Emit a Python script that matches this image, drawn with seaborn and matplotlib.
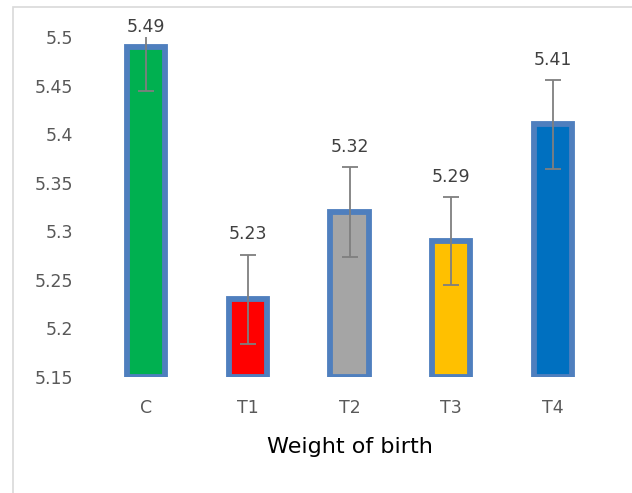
import numpy as np
import pandas as pd
import seaborn as sns
import matplotlib
matplotlib.use("Agg")
import matplotlib.pyplot as plt
from matplotlib.patches import Rectangle

groups = ["C", "T1", "T2", "T3", "T4"]
weights = [5.49, 5.23, 5.32, 5.29, 5.41]
errors = [0.046, 0.046, 0.046, 0.045, 0.046]
bar_colors = ["#00B050", "#FF0000", "#A5A5A5", "#FFC000", "#0070C0"]
y_ticks = [5.15, 5.2, 5.25, 5.3, 5.35, 5.4, 5.45, 5.5]

df = pd.DataFrame({"group": groups, "weight": weights})

sns.set_style("white")
plt.rcParams["font.family"] = ["DejaVu Sans"]

fig = plt.figure(figsize=(6.32, 4.93), dpi=100)
ax = fig.add_axes([95 / 632, 1 - 377 / 493, 509 / 632, 340 / 493])

sns.barplot(
    data=df,
    x="group",
    y="weight",
    hue="group",
    palette=bar_colors,
    saturation=1,
    width=0.375,
    edgecolor="#4F7FBE",
    linewidth=4.2,
    legend=False,
    ax=ax
)

# bars start at the axis floor so the bottom border shows like in Excel
base = y_ticks[0]
for p in ax.patches:
    top = p.get_y() + p.get_height()
    p.set_y(base)
    p.set_height(top - base)

ax.errorbar(
    range(len(groups)),
    weights,
    yerr=errors,
    fmt="none",
    ecolor="#7F7F7F",
    elinewidth=1.3,
    capsize=6,
    capthick=1.3
)

tops = np.minimum(np.array(weights) + np.array(errors), max(weights))
for i, (v, t) in enumerate(zip(weights, tops)):
    ax.annotate(
        f"{v:.2f}",
        (i, t),
        xytext=(0, 14.5),
        textcoords="offset points",
        ha="center",
        va="center",
        fontsize=12.5,
        color="#404040",
        annotation_clip=False
    )

ax.set_ylim(5.15, 5.5)
ax.set_xlim(-0.5, 4.5)
ax.set_yticks(y_ticks)
ax.set_yticklabels([f"{t:g}" for t in y_ticks])
ax.tick_params(axis="y", length=0, pad=16, labelsize=12.5, labelcolor="#595959")
ax.tick_params(axis="x", length=0, pad=16, labelsize=12.5, labelcolor="#595959")
ax.set_ylabel("")
ax.set_xlabel("Weight of birth", fontsize=16, color="black", labelpad=14)
sns.despine(ax=ax, left=True, bottom=True)

fig.patches.append(
    Rectangle(
        (13 / 632, -0.1),
        1.2,
        1.1 - 7 / 493,
        transform=fig.transFigure,
        fill=False,
        edgecolor="#D9D9D9",
        linewidth=1.2
    )
)

fig.savefig("out.png", dpi=100)
